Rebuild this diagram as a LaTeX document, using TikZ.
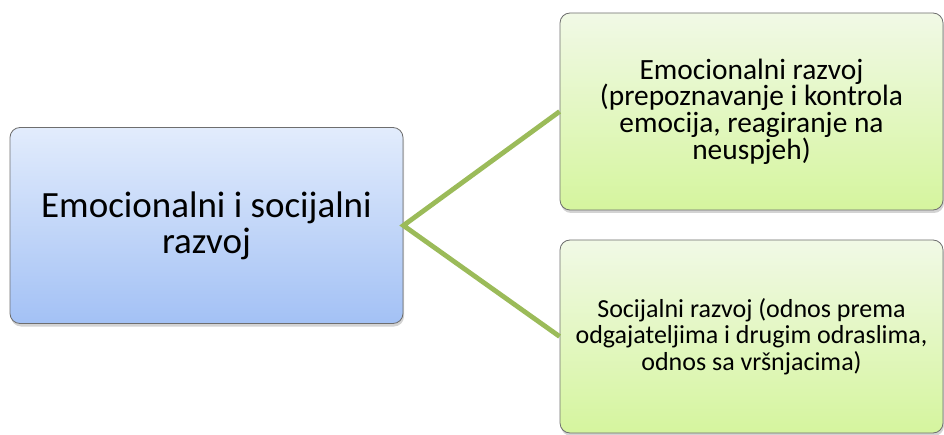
\documentclass[tikz,border=0pt]{standalone}
\usepackage{fontspec}
\setmainfont{Carlito}
\usetikzlibrary{shadows}
\definecolor{conn}{HTML}{9BBB59}
\definecolor{bluetop}{HTML}{E2ECFC}
\definecolor{bluebot}{HTML}{A3C1F5}
\definecolor{greentop}{HTML}{F1F9E6}
\definecolor{greenbot}{HTML}{D5F59E}
\definecolor{edgegray}{HTML}{6E6E6E}
\tikzset{
  box/.style={draw=edgegray, line width=0.8pt, rounded corners=10pt, align=center,
    inner sep=0pt, drop shadow={shadow xshift=1pt, shadow yshift=-3pt, opacity=0.35}},
  bluebox/.style={box, top color=bluetop, bottom color=bluebot, font=\fontsize{37}{36}\selectfont},
  greenbox/.style={box, top color=greentop, bottom color=greenbot},
  toptext/.style={font=\fontsize{29.4}{26.7}\selectfont},
  bottext/.style={font=\fontsize{26}{26.7}\selectfont},
  connector/.style={draw=conn, line width=4.8pt}
}
\begin{document}
\begin{tikzpicture}[x=1pt,y=-1pt]
\useasboundingbox (0,0) rectangle (944,435);
\node[bluebox, minimum width=393pt, minimum height=196pt] (L) at (206.5,225.5) {Emocionalni i socijalni\\razvoj};
\node[greenbox, toptext, minimum width=383pt, minimum height=197pt] (T) at (751.5,111.5) {Emocionalni razvoj\\(prepoznavanje i kontrola\\emocija, reagiranje na\\neuspjeh)};
\node[greenbox, bottext, minimum width=383pt, minimum height=193pt] (B) at (751.5,336.5) {Socijalni razvoj (odnos prema\\odgajateljima i drugim odraslima,\\odnos sa vršnjacima)};
\draw[connector] (T.west) -- (L.east) -- (B.west);
\end{tikzpicture}
\end{document}
